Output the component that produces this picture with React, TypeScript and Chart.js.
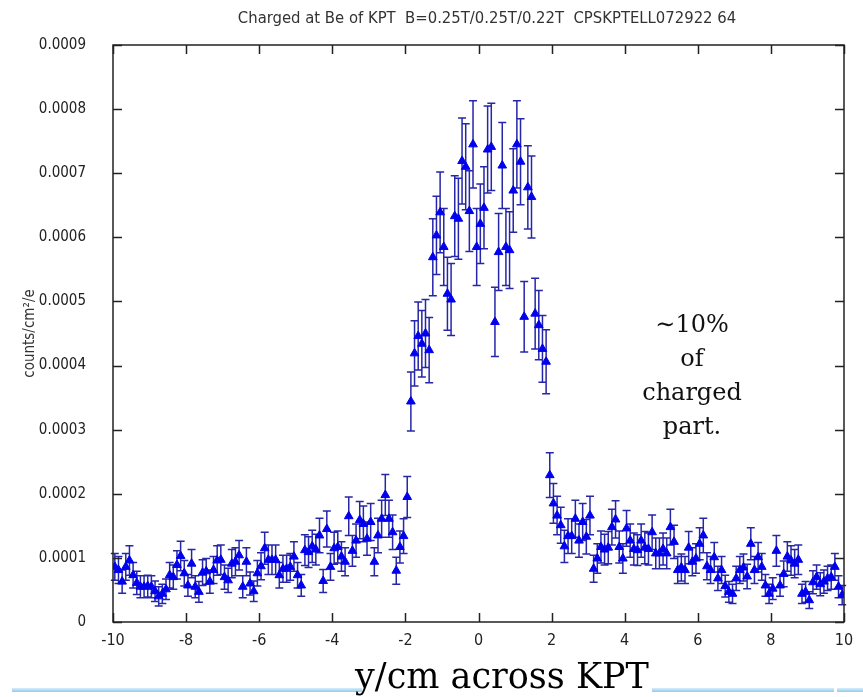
import React, { useEffect, useRef } from "react";
import { Chart, registerables } from "chart.js";

Chart.register(...registerables);

const TITLE = "Charged at Be of KPT  B=0.25T/0.25T/0.22T  CPSKPTELL072922 64";
const X_LABEL = "y/cm across KPT";
const Y_LABEL = "counts/cm\u00B2/e";
const NOTE_LINES = ["\u223C10%", "of", "charged", "part."];

// bin centres: first bin and bin width (cm)
const X_FIRST = -9.95;
const X_STEP = 0.1;
const UNIT = 1e-4; // values below are in units of 1e-4 counts/cm2/e

// -9.95 .. -6.05
const leftWing = [0.86,0.81,0.63,0.86,0.96,0.73,0.61,0.55,0.55,0.56,0.55,0.48,0.40,0.44,0.51,0.73,0.70,0.89,1.03,0.76,0.57,0.91,0.55,0.47,0.77,0.79,0.63,0.81,0.96,0.97,0.70,0.65,0.91,0.94,1.04,0.55,0.94,0.60,0.48,0.76];
const leftWingErr = [0.21,0.21,0.18,0.21,0.23,0.20,0.18,0.17,0.17,0.17,0.17,0.16,0.15,0.15,0.16,0.20,0.19,0.22,0.23,0.20,0.17,0.22,0.17,0.16,0.20,0.20,0.18,0.21,0.23,0.23,0.19,0.19,0.22,0.22,0.23,0.17,0.22,0.18,0.16,0.20];
// -5.95 .. -1.95
const leftShoulder = [0.87,1.15,0.97,0.97,0.97,0.73,0.83,0.83,0.86,1.02,0.73,0.57,1.12,1.09,1.18,1.13,1.35,0.64,1.45,0.86,1.15,1.17,1.02,0.94,1.65,1.11,1.27,1.59,1.53,1.30,1.56,0.94,1.35,1.61,1.98,1.61,1.40,0.80,1.17,1.34,1.95];
const leftShoulderErr = [0.21,0.25,0.23,0.23,0.23,0.20,0.21,0.21,0.21,0.23,0.20,0.17,0.24,0.24,0.25,0.24,0.27,0.18,0.28,0.21,0.25,0.25,0.23,0.22,0.30,0.24,0.26,0.29,0.28,0.26,0.29,0.22,0.27,0.29,0.32,0.29,0.27,0.21,0.25,0.27,0.32];
// -1.85 .. 1.85
const core = [3.44,4.19,4.46,4.34,4.50,4.24,5.69,6.03,6.39,5.85,5.12,5.03,6.33,6.29,7.19,7.10,6.41,7.45,5.85,6.21,6.46,7.37,7.41,4.68,5.77,7.12,5.85,5.80,6.73,7.45,7.18,4.76,6.78,6.63,4.81,4.63,4.26,4.06];
const coreErr = [0.46,0.51,0.53,0.52,0.53,0.51,0.60,0.61,0.63,0.60,0.57,0.56,0.63,0.63,0.67,0.67,0.63,0.68,0.60,0.62,0.64,0.68,0.68,0.54,0.60,0.67,0.60,0.60,0.65,0.68,0.67,0.55,0.65,0.64,0.55,0.54,0.52,0.50];
// 1.95 .. 5.75
const rightShoulder = [2.29,1.85,1.66,1.51,1.18,1.34,1.34,1.61,1.27,1.56,1.33,1.66,0.83,0.99,1.17,1.13,1.16,1.48,1.60,1.17,0.99,1.46,1.27,1.14,1.12,1.27,1.16,1.14,1.40,1.07,1.07,1.14,1.07,1.48,1.25,0.81,0.85,0.81,1.16];
const rightShoulderErr = [0.35,0.31,0.30,0.28,0.25,0.27,0.27,0.29,0.26,0.29,0.27,0.30,0.21,0.23,0.25,0.24,0.25,0.28,0.29,0.25,0.23,0.28,0.26,0.25,0.24,0.26,0.25,0.25,0.27,0.24,0.24,0.25,0.24,0.28,0.26,0.21,0.21,0.21,0.25];
// 5.85 .. 9.95
const rightWing = [0.94,0.99,1.22,1.35,0.87,0.81,1.01,0.68,0.81,0.56,0.47,0.44,0.68,0.81,0.85,0.71,1.22,0.81,1.01,0.86,0.57,0.44,0.52,1.11,0.57,0.75,1.02,0.96,0.91,0.97,0.44,0.47,0.34,0.62,0.70,0.59,0.63,0.68,0.70,0.86,0.55,0.42];
const rightWingErr = [0.22,0.23,0.25,0.27,0.21,0.21,0.23,0.19,0.21,0.17,0.16,0.15,0.19,0.21,0.21,0.19,0.25,0.21,0.23,0.21,0.17,0.15,0.17,0.24,0.17,0.20,0.23,0.23,0.22,0.23,0.15,0.16,0.13,0.18,0.19,0.18,0.18,0.19,0.19,0.21,0.17,0.15];

const SANS = "'DejaVu Sans Condensed', 'Liberation Sans Narrow', 'DejaVu Sans', sans-serif";
const SERIF = "'DejaVu Serif', 'Liberation Serif', serif";

const values = [...leftWing, ...leftShoulder, ...core, ...rightShoulder, ...rightWing];
const errors = [...leftWingErr, ...leftShoulderErr, ...coreErr, ...rightShoulderErr, ...rightWingErr];

const points = values.map((v, i) => ({
  x: Math.round((X_FIRST + i * X_STEP) * 100) / 100,
  y: v * UNIT,
  e: errors[i] * UNIT,
}));

const errorBarPlugin = {
  id: "errorBars",
  beforeDatasetsDraw(chart: any) {
    const { ctx, scales } = chart;
    const xs = scales.x;
    const ys = scales.y;
    ctx.save();
    ctx.strokeStyle = "#2626a8";
    ctx.lineWidth = 1.5;
    ctx.beginPath();
    for (const p of points) {
      const px = xs.getPixelForValue(p.x);
      const top = ys.getPixelForValue(p.y + p.e);
      const bot = ys.getPixelForValue(p.y - p.e);
      ctx.moveTo(px, top);
      ctx.lineTo(px, bot);
      ctx.moveTo(px - 4, top);
      ctx.lineTo(px + 4, top);
      ctx.moveTo(px - 4, bot);
      ctx.lineTo(px + 4, bot);
    }
    ctx.stroke();
    ctx.restore();
  },
};

const framePlugin = {
  id: "frame",
  afterDatasetsDraw(chart: any) {
    const { ctx, chartArea, scales } = chart;
    const { left, right, top, bottom } = chartArea;
    const L = 9;
    ctx.save();
    ctx.strokeStyle = "#222";
    ctx.lineWidth = 1.5;
    ctx.strokeRect(left, top, right - left, bottom - top);
    ctx.beginPath();
    for (const t of scales.x.ticks) {
      const px = Math.round(scales.x.getPixelForValue(t.value)) + 0.5;
      ctx.moveTo(px, bottom);
      ctx.lineTo(px, bottom - L);
      ctx.moveTo(px, top);
      ctx.lineTo(px, top + L);
    }
    for (const t of scales.y.ticks) {
      const py = Math.round(scales.y.getPixelForValue(t.value)) + 0.5;
      ctx.moveTo(left, py);
      ctx.lineTo(left + L, py);
      ctx.moveTo(right, py);
      ctx.lineTo(right - L, py);
    }
    ctx.stroke();
    ctx.restore();
  },
};

export default function App() {
  const ref = useRef<HTMLCanvasElement | null>(null);

  useEffect(() => {
    if (!ref.current) return;
    const chart = new Chart(ref.current, {
      type: "scatter",
      data: {
        datasets: [
          {
            data: points.map((p) => ({ x: p.x, y: p.y })),
            pointStyle: "triangle",
            pointRadius: 5,
            pointBackgroundColor: "#0000ee",
            pointBorderColor: "#0000ee",
            pointBorderWidth: 1,
            showLine: false,
          } as any,
        ],
      },
      options: {
        animation: false,
        responsive: false,
        events: [],
        layout: { padding: { left: 0, right: 19, top: 45, bottom: 0 } },
        plugins: {
          legend: { display: false },
          tooltip: { enabled: false },
          title: { display: false },
        },
        scales: {
          x: {
            type: "linear",
            min: -10,
            max: 10,
            grid: { display: false, drawTicks: false },
            border: { display: false },
            ticks: {
              stepSize: 2,
              color: "#222",
              padding: 9,
              maxRotation: 0,
              font: { family: SANS, size: 16 },
            },
            title: { display: false },
            afterFit: (s: any) => {
              s.height = 75;
            },
          },
          y: {
            type: "linear",
            min: 0,
            max: 0.0009,
            grid: { display: false, drawTicks: false },
            border: { display: false },
            ticks: {
              stepSize: 0.0001,
              color: "#222",
              padding: 27,
              font: { family: SANS, size: 15 },
              callback: (v: any) => (Number(v) === 0 ? "0" : Number(v).toFixed(4)),
            },
            title: {
              display: true,
              text: Y_LABEL,
              color: "#333",
              font: { family: SANS, size: 15 },
              padding: { top: 21, bottom: 0 },
            },
            afterFit: (s: any) => {
              s.width = 113;
            },
          },
        },
      },
      plugins: [errorBarPlugin, framePlugin],
    });
    return () => chart.destroy();
  }, []);

  return (
    <div style={{ position: "absolute", left: 0, top: 0, width: 863, height: 697, background: "#fff", overflow: "hidden" }}>
      <canvas ref={ref} width={863} height={697} style={{ width: 863, height: 697, display: "block" }} />
      <div
        style={{
          position: "absolute",
          left: 187,
          top: 8,
          width: 600,
          textAlign: "center",
          fontFamily: SANS,
          fontSize: 16.5,
          lineHeight: "20px",
          color: "#333",
          whiteSpace: "pre",
        }}
      >
        {TITLE}
      </div>
      <div
        style={{
          position: "absolute",
          left: 617,
          top: 307,
          width: 150,
          textAlign: "center",
          fontFamily: SERIF,
          fontSize: 24,
          lineHeight: "34px",
          color: "#111",
        }}
      >
        {NOTE_LINES.map((t, i) => (
          <div key={i}>{t}</div>
        ))}
      </div>
      <div style={{ position: "absolute", left: 12, top: 688, width: 350, height: 4, background: "linear-gradient(#d6eefb, #8ecbef)" }} />
      <div style={{ position: "absolute", left: 652, top: 688, width: 182, height: 4, background: "linear-gradient(#d6eefb, #8ecbef)" }} />
      <div style={{ position: "absolute", left: 837, top: 688, width: 26, height: 4, background: "linear-gradient(#d6eefb, #8ecbef)" }} />
      <div
        style={{
          position: "absolute",
          left: 352,
          top: 656,
          width: 300,
          textAlign: "center",
          fontFamily: SERIF,
          fontSize: 35,
          lineHeight: "40px",
          color: "#000",
          whiteSpace: "nowrap",
          background: "transparent",
        }}
      >
        {X_LABEL}
      </div>
    </div>
  );
}
